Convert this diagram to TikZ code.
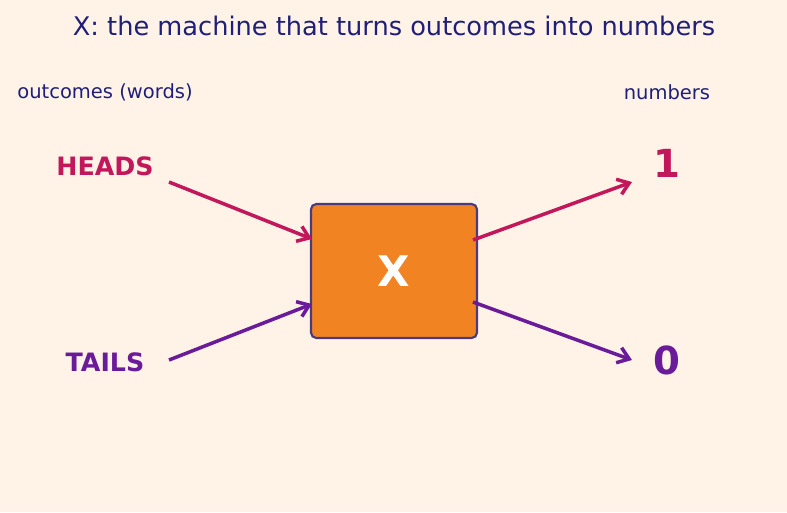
\documentclass[tikz,border=0pt]{standalone}
\usepackage{fontspec}
\setmainfont{DejaVu Sans}
\usetikzlibrary{arrows.meta}
\definecolor{bgcream}{HTML}{FFF3E8}
\definecolor{navy}{HTML}{1F1F7A}
\definecolor{crimson}{HTML}{C2185B}
\definecolor{grape}{HTML}{6A1B9A}
\definecolor{boxorange}{HTML}{F28323}
\definecolor{boxedge}{HTML}{4A3C7C}
\begin{document}
\begin{tikzpicture}[x=0.02cm,y=-0.02cm,
  every node/.style={inner sep=0pt},
  maparrow/.style={line width=2pt,-{Straight Barb[length=2.2mm,width=3.2mm,line width=2pt]}}]
% background and frame
\fill[bgcream] (0,0) rectangle (787,512);
\useasboundingbox (0,0) rectangle (787,512);
% headings
\node[font=\fontsize{14.6}{17}\selectfont,text=navy] (title) at (394,26) {X: the machine that turns outcomes into numbers};
\node[font=\fontsize{11.1}{13}\selectfont,text=navy] (lefthead) at (105,92) {outcomes (words)};
\node[font=\fontsize{11.1}{13}\selectfont,text=navy] (righthead) at (667,92) {numbers};
% outcomes
\node[font=\fontsize{14.4}{17}\selectfont\bfseries,text=crimson] (heads) at (105,166) {HEADS};
\node[font=\fontsize{14.4}{17}\selectfont\bfseries,text=grape] (tails) at (105,362) {TAILS};
% numbers
\node[font=\fontsize{22}{26}\selectfont\bfseries,text=crimson] (one) at (667,163) {1};
\node[font=\fontsize{22}{26}\selectfont\bfseries,text=grape] (zero) at (667,360) {0};
% the machine
\node[draw=boxedge,line width=1.2pt,fill=boxorange,rounded corners=3pt,
  minimum width=166*0.02cm,minimum height=134*0.02cm,
  font=\fontsize{24}{28}\selectfont\bfseries,text=white] (machine) at (394,271) {X};
% arrow end points
\coordinate (headsout) at (169,182);
\coordinate (tailsout) at (169,360);
\coordinate (machinein1) at (312,239);
\coordinate (machinein0) at (312,304);
\coordinate (machineout1) at (473,240);
\coordinate (machineout0) at (473,302);
\coordinate (onein) at (632,182);
\coordinate (zeroin) at (632,360);
\draw[maparrow,crimson] (headsout) -- (machinein1);
\draw[maparrow,grape] (tailsout) -- (machinein0);
\draw[maparrow,crimson] (machineout1) -- (onein);
\draw[maparrow,grape] (machineout0) -- (zeroin);
\end{tikzpicture}
\end{document}
